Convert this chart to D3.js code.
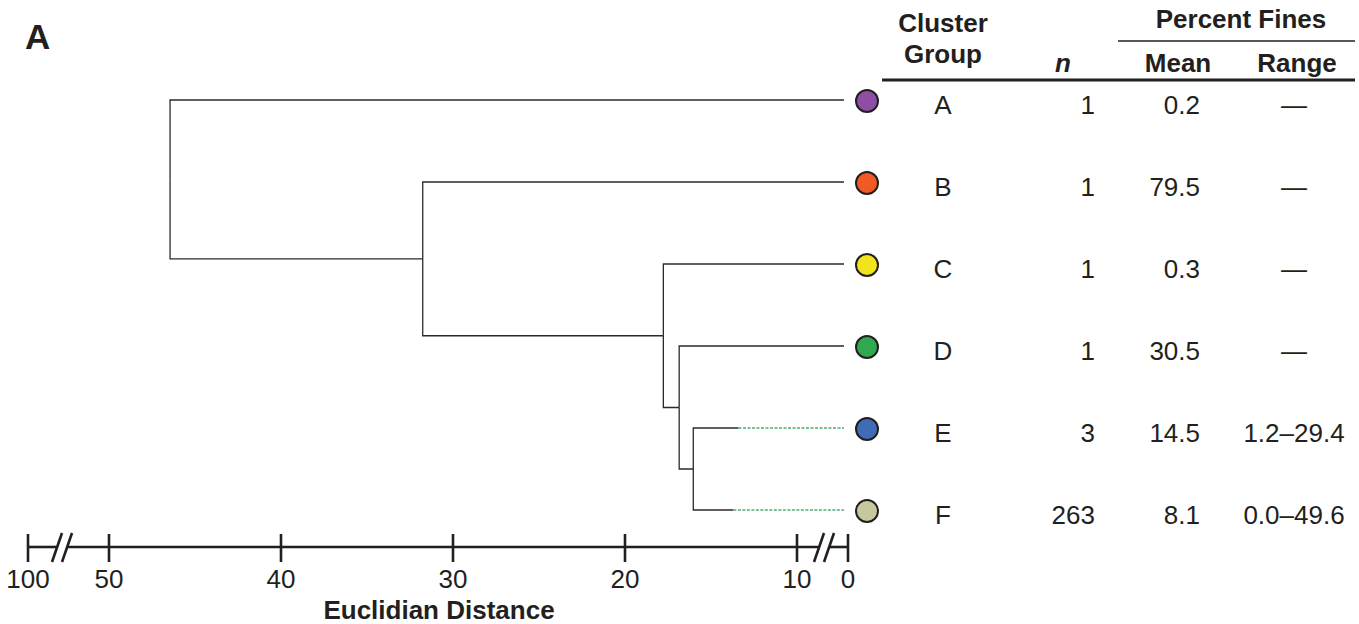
<!DOCTYPE html>
<html>
<head>
<meta charset="utf-8">
<script src="https://cdn.jsdelivr.net/npm/d3@7"></script>
<style>
  html, body { margin: 0; padding: 0; background: #fff; }
  svg { display: block; }
  text { font-family: "Liberation Sans", Arial, Helvetica, sans-serif; fill: #231f20; }
</style>
</head>
<body>
<svg id="chart" width="1359" height="624"></svg>
<script>
// Cluster groups and their table values
const groups = ["A", "B", "C", "D", "E", "F"];
const counts = [1, 1, 1, 1, 3, 263];
const meanFines = ["0.2", "79.5", "0.3", "30.5", "14.5", "8.1"];
const rangeFines = ["\u2014", "\u2014", "\u2014", "\u2014", "1.2\u201329.4", "0.0\u201349.6"];
const groupColors = ["#8d4ea3", "#f15a24", "#f2e41c", "#2fa84f", "#3f6db5", "#c7c99d"];

// Within-group linkage distance (solid part of each leaf branch)
const leafDistances = [0, 0, 0, 0, 13.4, 13.7];

// Merge distances, from the root inwards: root, B+rest, C+rest, D+rest, E+F
const mergeDistances = [46.45, 31.76, 17.77, 16.85, 16.03];

// Axis
const tickValues = [100, 50, 40, 30, 20, 10, 0];
const axisTitle = "Euclidian Distance";

// Build the tree from the arrays above
function leaf(i) { return { name: groups[i], idx: i, dist: leafDistances[i] }; }
const treeData = {
  dist: mergeDistances[0], children: [
    leaf(0),
    { dist: mergeDistances[1], children: [
      leaf(1),
      { dist: mergeDistances[2], children: [
        leaf(2),
        { dist: mergeDistances[3], children: [
          leaf(3),
          { dist: mergeDistances[4], children: [leaf(4), leaf(5)] }
        ]}
      ]}
    ]}
  ]
};

const svg = d3.select("#chart");

// Broken distance scale: 100..50 and 10..0 are compressed
const x = d3.scaleLinear()
  .domain([100, 50, 10, 0])
  .range([28, 109, 797, 848]);

const leafTop = 100, leafStep = 82;
const root = d3.hierarchy(treeData);
d3.cluster().nodeSize([leafStep, 1]).separation(() => 1)(root);
const leaves = root.leaves();
const offset = leafTop - d3.min(leaves, d => d.x);
root.each(d => { d.py = d.x + offset; d.px = x(d.data.dist); });

const leafEnd = x(0) - 4;
const circleX = x(0) + 19;

const g = svg.append("g");

// Elbow links
g.selectAll("path.link")
  .data(root.links())
  .join("path")
  .attr("class", "link")
  .attr("fill", "none")
  .attr("stroke", "#2b2b2b")
  .attr("stroke-width", 1.3)
  .attr("d", l => {
    const tx = l.target.children ? l.target.px : (l.target.data.dist > 0 ? l.target.px : leafEnd);
    return `M${l.source.px},${l.source.py}V${l.target.py}H${tx}`;
  });

// Dashed extensions for groups with internal spread
g.selectAll("line.ext")
  .data(leaves.filter(d => d.data.dist > 0))
  .join("line")
  .attr("class", "ext")
  .attr("x1", d => d.px).attr("x2", leafEnd)
  .attr("y1", d => d.py).attr("y2", d => d.py)
  .attr("stroke", "#4caf76")
  .attr("stroke-width", 1.4)
  .attr("stroke-dasharray", "3,1.5");

// Group markers
g.selectAll("circle.grp")
  .data(leaves)
  .join("circle")
  .attr("class", "grp")
  .attr("cx", circleX)
  .attr("cy", d => d.py + 1)
  .attr("r", 11)
  .attr("fill", d => groupColors[d.data.idx])
  .attr("stroke", "#231f20")
  .attr("stroke-width", 2);

// Axis with breaks
const axisY = 547;
const ax = svg.append("g").attr("stroke", "#231f20").attr("stroke-width", 2.6);
const breaks = [62, 824];
const segs = [[x(100), breaks[0] - 5], [breaks[0] + 5, breaks[1] - 5], [breaks[1] + 5, x(0)]];
segs.forEach(s => ax.append("line").attr("x1", s[0]).attr("x2", s[1]).attr("y1", axisY).attr("y2", axisY));
breaks.forEach(b => {
  [-5, 5].forEach(o => {
    ax.append("line")
      .attr("x1", b + o - 5).attr("y1", axisY + 15)
      .attr("x2", b + o + 5).attr("y2", axisY - 14);
  });
});
ax.selectAll("line.tick")
  .data(tickValues)
  .join("line")
  .attr("class", "tick")
  .attr("x1", d => x(d)).attr("x2", d => x(d))
  .attr("y1", axisY - 13).attr("y2", axisY + 15);

svg.selectAll("text.ticklab")
  .data(tickValues)
  .join("text")
  .attr("class", "ticklab")
  .attr("x", d => x(d))
  .attr("y", 588)
  .attr("text-anchor", "middle")
  .attr("font-size", 26)
  .text(d => d);

svg.append("text")
  .attr("x", (x(100) + x(0)) / 2 + 1)
  .attr("y", 619)
  .attr("text-anchor", "middle")
  .attr("font-size", 26)
  .attr("font-weight", "bold")
  .text(axisTitle);

// Panel label
svg.append("text")
  .attr("x", 25).attr("y", 49)
  .attr("font-size", 35).attr("font-weight", "bold")
  .text("A");

// Table header
const cols = { group: 943, n: 1095, nHead: 1063, mean: 1200, meanHead: 1178, range: 1294, rangeHead: 1297 };
const hdr = svg.append("g").attr("font-size", 26).attr("font-weight", "bold").attr("text-anchor", "middle");
hdr.append("text").attr("x", cols.group).attr("y", 32).text("Cluster");
hdr.append("text").attr("x", cols.group).attr("y", 63).text("Group");
hdr.append("text").attr("x", cols.nHead).attr("y", 72).attr("font-style", "italic").text("n");
hdr.append("text").attr("x", 1241).attr("y", 28).text("Percent Fines");
hdr.append("text").attr("x", cols.meanHead).attr("y", 72).text("Mean");
hdr.append("text").attr("x", cols.rangeHead).attr("y", 72).text("Range");

svg.append("line").attr("x1", 1118).attr("x2", 1355).attr("y1", 41).attr("y2", 41)
  .attr("stroke", "#231f20").attr("stroke-width", 1.5);
svg.append("line").attr("x1", 882).attr("x2", 1355).attr("y1", 80).attr("y2", 80)
  .attr("stroke", "#231f20").attr("stroke-width", 3);

// Table rows, aligned with the leaves
const rows = svg.append("g").attr("font-size", 26);
leaves.forEach(d => {
  const i = d.data.idx, by = d.py + 14;
  rows.append("text").attr("x", cols.group).attr("y", by).attr("text-anchor", "middle").text(groups[i]);
  rows.append("text").attr("x", cols.n).attr("y", by).attr("text-anchor", "end").text(counts[i]);
  rows.append("text").attr("x", cols.mean).attr("y", by).attr("text-anchor", "end").text(meanFines[i]);
  rows.append("text").attr("x", cols.range).attr("y", by).attr("text-anchor", "middle").text(rangeFines[i]);
});
</script>
</body>
</html>
